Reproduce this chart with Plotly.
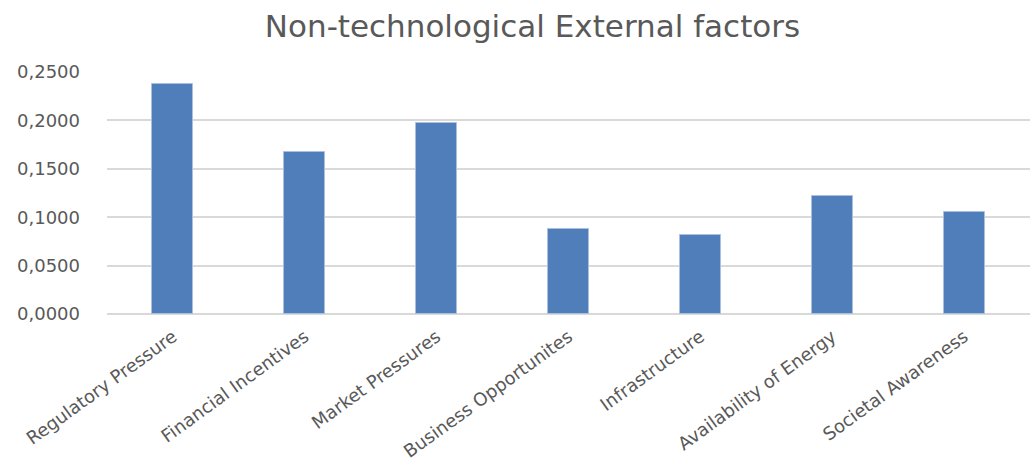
import plotly.graph_objects as go

categories = ["Regulatory Pressure", "Financial Incentives", "Market Pressures",
              "Business Opportunites", "Infrastructure", "Availability of Energy",
              "Societal Awareness"]
values = [0.2373, 0.1677, 0.1977, 0.0875, 0.0816, 0.1219, 0.1057]
y_ticks = [0.0, 0.05, 0.10, 0.15, 0.20, 0.25]

fig = go.Figure(go.Bar(
    x=categories, y=values, width=0.31,
    marker=dict(color="#4F7EBA", line=dict(color="#A9C0DE", width=1)),
))

fig.update_layout(
    width=1030, height=469,
    margin=dict(l=107, r=0, t=72, b=155),
    paper_bgcolor="white", plot_bgcolor="white",
    separators=", ",
    title=dict(text="Non-technological External factors", x=0.517, xanchor="center",
               y=0.945, yanchor="middle",
               font=dict(family="DejaVu Sans, sans-serif", size=31, color="#595959")),
    font=dict(family="DejaVu Sans, sans-serif", color="#595959"),
    showlegend=False,
    bargap=0,
)
fig.update_yaxes(range=[0, 0.25], tickvals=y_ticks, tickformat=".4f",
                 showgrid=True, gridcolor="#D9D9D9", gridwidth=1.5,
                 zeroline=True, zerolinecolor="#D9D9D9", zerolinewidth=1.5,
                 showline=False, ticks="", tickfont=dict(size=18, color="#595959"),
                 ticklen=0, ticklabelstandoff=26)
fig.update_xaxes(tickangle=-36, tickfont=dict(size=18, color="#595959"),
                 showline=False, ticks="", showgrid=False, ticklabelstandoff=8)

fig.write_html("out.html")
